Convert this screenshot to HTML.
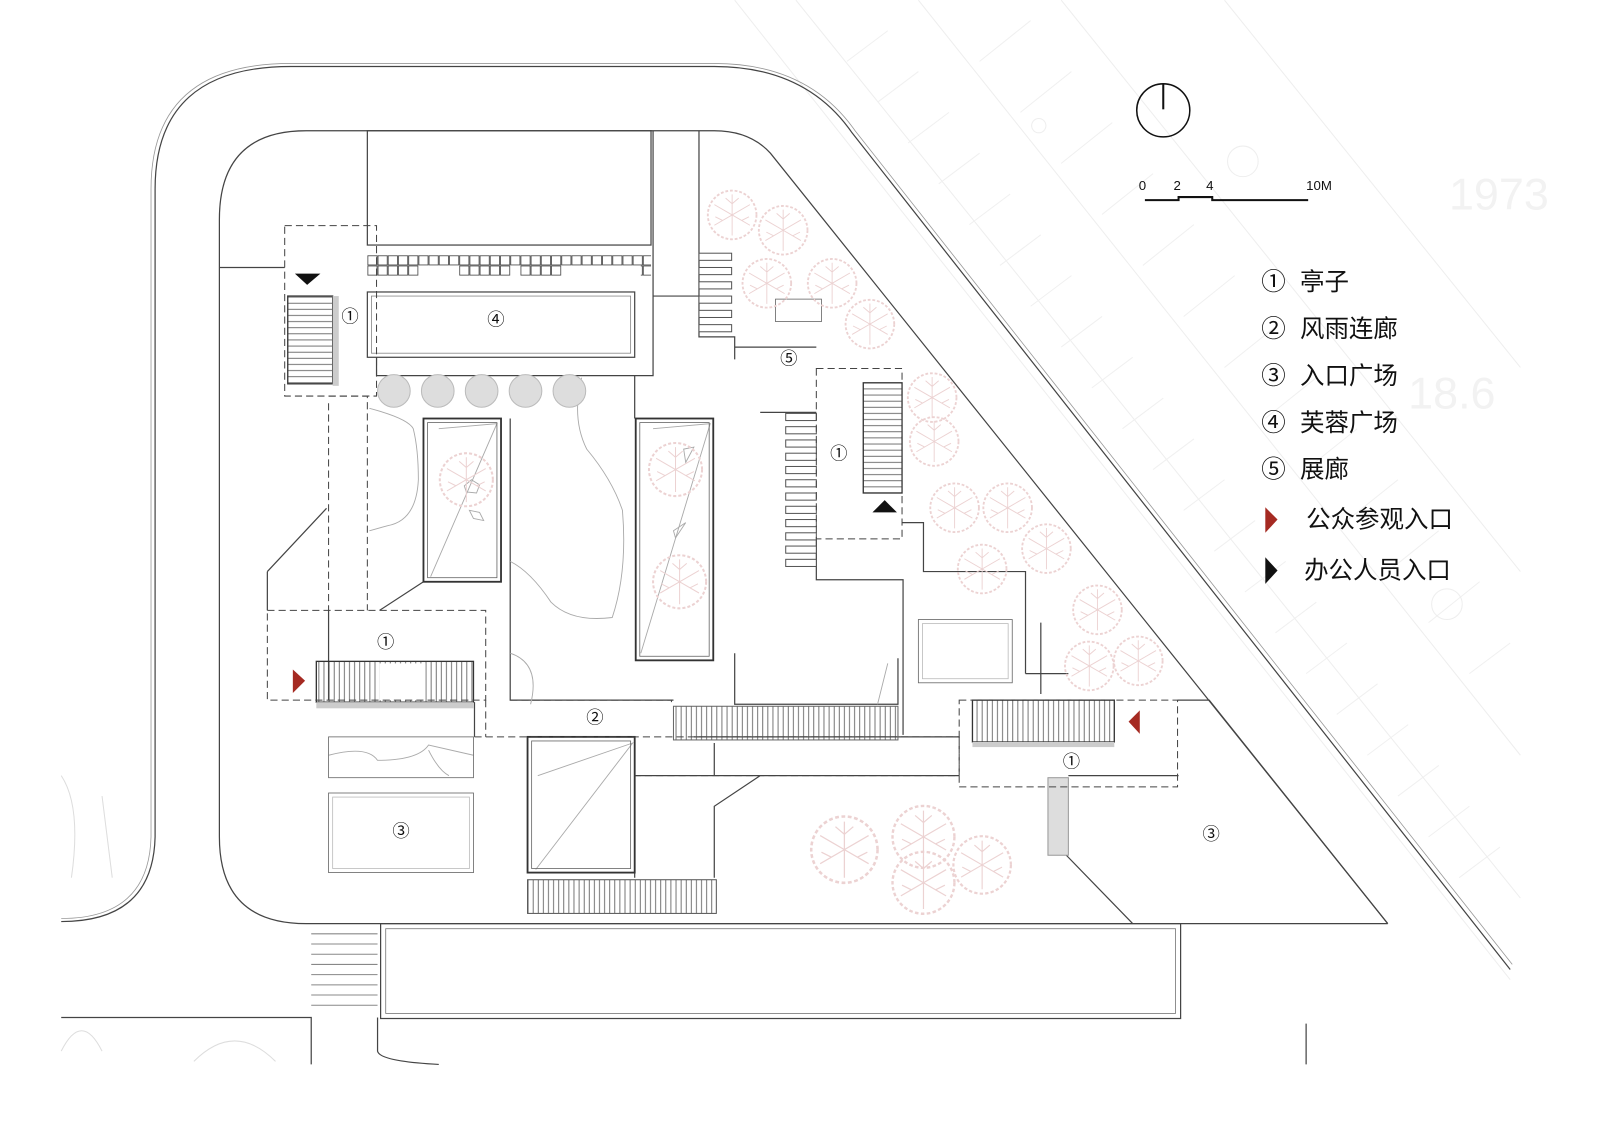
<!DOCTYPE html>
<html><head><meta charset="utf-8"><style>
html,body{margin:0;padding:0;background:#fff;width:1600px;height:1136px;overflow:hidden}
svg{display:block}
.t{font-family:"Liberation Sans","Noto Sans CJK SC",sans-serif;fill:#111}
</style></head><body>
<svg width="1600" height="1136" viewBox="0 0 1568 1113" xmlns="http://www.w3.org/2000/svg">
<defs>
<symbol id="tree" viewBox="-30 -30 60 60">
<circle r="26" fill="none" stroke="#ecd2d2" stroke-width="2" stroke-dasharray="3 2"/>
<g stroke="#ecd2d2" stroke-width="1" fill="none">
<path d="M0 0L0-22M0 0L19-11M0 0L19 11M0 0L0 22M0 0L-19 11M0 0L-19-11M0-12L7-18M0-12L-7-18M10 6L18 2M-10 6L-18 2"/>
</g>
</symbol>
<pattern id="hst" width="6" height="6" patternUnits="userSpaceOnUse"><path d="M0 3H6" stroke="#555" stroke-width="0.8"/></pattern>
<pattern id="vst" width="5" height="6" patternUnits="userSpaceOnUse"><path d="M2.5 0V6" stroke="#555" stroke-width="0.8"/></pattern>
<pattern id="sq" width="10" height="10" patternUnits="userSpaceOnUse"><rect x="0.5" y="0.5" width="9" height="9" fill="none" stroke="#444" stroke-width="0.8"/></pattern>
</defs>
<rect width="1568" height="1113" fill="#fff"/>
<g stroke="#eee" stroke-width="1" fill="none">
<path d="M720 0L1480 960M780 0L1490 880M900 0L1490 740M1040 0L1490 560M1200 0L1490 360"/>
<g stroke="#f0f0f0">
<path d="M830 60L870 30M860 100L900 70M890 140L930 110M920 180L960 150M950 220L990 190M980 260L1020 230M1010 300L1050 270M1040 340L1080 310M1070 380L1110 350M1100 420L1140 390M1130 460L1170 430M1160 500L1200 470M1190 540L1230 510M1220 580L1260 550M1250 620L1290 590M1280 660L1320 630M1310 700L1350 670M1340 740L1380 710M1370 780L1410 750M1400 820L1440 790M1430 860L1470 830"/>
<path d="M960 60L1010 20M1000 110L1050 70M1040 160L1090 120M1080 210L1130 170M1120 260L1170 220M1160 310L1210 270M1200 360L1250 320M1240 410L1290 370M1280 460L1330 420M1320 510L1370 470M1360 560L1410 520M1400 610L1450 570M1440 660L1480 630"/>
</g>
<circle cx="1018" cy="123" r="7"/><circle cx="1218" cy="158" r="15"/><circle cx="1418" cy="592" r="15"/>
</g>
<g class="t" font-size="44"><text x="1420" y="205" style="fill:#f2f2f2">1973</text><text x="1380" y="400" style="fill:#f2f2f2">18.6</text></g>
<g fill="none" stroke="#444" stroke-width="1.2">
<path d="M60 903Q150 903 152 820L152 185Q152 65 285 65L700 65Q790 65 835 130L1480 950"/>
<path d="M60 900Q146 900 148 820L148 185Q148 62 285 62L700 62Q792 62 838 128L1482 945" stroke="#999" stroke-width="0.8"/>
<path d="M215 820Q215 905 300 905L1360 905M215 820L215 215Q215 128 300 128L700 128Q735 128 755 150L1360 905"/>
<path d="M60 997L305 997L305 1043"/>
<path d="M370 997L370 1030Q372 1040 430 1043M1280 1003L1280 1043"/>
<rect x="373" y="905" width="784" height="93"/>
<rect x="378" y="910" width="774" height="83" stroke="#777" stroke-width="0.8"/>
</g>
<g stroke="#888" stroke-width="1"><path d="M305 915H370M305 925H370M305 935H370M305 945H370M305 955H370M305 965H370M305 975H370M305 985H370"/></g>
<g fill="none" stroke="#ddd"><path d="M60 1030Q80 990 100 1030M190 1040Q230 1000 270 1040M100 780L110 860M60 760Q80 790 70 860"/></g>
<g fill="none" stroke="#444" stroke-width="1.2">
<rect x="360" y="128" width="278" height="112"/>
<rect x="360" y="250" width="278" height="10" fill="url(#sq)" stroke="none"/>
<rect x="360" y="260" width="50" height="10" fill="url(#sq)" stroke="none"/>
<rect x="450" y="260" width="50" height="10" fill="url(#sq)" stroke="none"/>
<rect x="510" y="260" width="40" height="10" fill="url(#sq)" stroke="none"/>
<rect x="628" y="260" width="10" height="10" fill="url(#sq)" stroke="none"/>
<rect x="360" y="286" width="262" height="64"/><rect x="364" y="290" width="254" height="56" stroke="#888" stroke-width="0.8"/>
<path d="M215 262H279M369 350V368H622V410M622 368H640V290H685M640 128V290M685 128V330H720V352M720 340H800M745 404H800M884 512H905V560H1005V660M1005 580V610M800 528V568H885V720M262 560V598M262 560L320 498M322 598V686M500 598V686H660M500 410V598M415 570L372 598"/>
<path d="M700 728L700 760L745 760L700 790L700 860M622 760H940M622 760V860M465 688V722M680 722H940"/>
<path d="M1047 760H1155M1045 838L1110 905M1154 686H1185L1360 905M1005 660H1047M1020 610V680"/>
<path d="M720 640V690H880V645"/>
</g>
<g fill="none" stroke="#aaa" stroke-width="0.9">
<path d="M362 400Q400 410 405 420Q410 440 410 470Q408 510 380 515L362 520M570 370Q560 410 575 440Q600 470 610 500Q615 560 600 605Q560 610 540 590Q520 560 500 550M500 640Q530 650 520 690"/>
<path d="M430 420L487 415L422 565M640 420L696 415L628 640M527 760L620 728L525 852M322 740Q360 730 370 745Q410 745 420 730L464 740M420 735Q430 755 440 760M870 650L860 690"/>
<path d="M462 470l8 5-3 8-10-1-2-6zM460 500l10 2 4 8-10-2zM670 440l10-2-8 15zM660 520l12-8-10 15z"/>
</g>
<g fill="#ddd" stroke="#bbb" stroke-width="1">
<circle cx="386" cy="383" r="16"/><circle cx="429" cy="383" r="16"/><circle cx="472" cy="383" r="16"/><circle cx="515" cy="383" r="16"/><circle cx="558" cy="383" r="16"/>
</g>
<g fill="none" stroke="#333" stroke-width="1.8">
<rect x="415" y="410" width="76" height="160"/><rect x="623" y="410" width="76" height="237"/><rect x="517" y="722" width="105" height="133"/>
</g>
<g fill="none" stroke="#666" stroke-width="0.8">
<rect x="419" y="414" width="68" height="152"/><rect x="627" y="414" width="68" height="229"/><rect x="521" y="726" width="97" height="125"/>
<rect x="322" y="722" width="142" height="40"/><rect x="322" y="777" width="142" height="78"/><rect x="326" y="781" width="134" height="70" stroke="#bbb"/>
<rect x="900" y="607" width="92" height="62"/><rect x="904" y="611" width="84" height="54" stroke="#bbb"/>
<rect x="760" y="293" width="45" height="22"/>
</g>
<rect x="1027" y="762" width="20" height="76" fill="#ddd" stroke="#999"/>
<g>
<use href="#tree" x="690" y="183" width="55" height="55"/><use href="#tree" x="740" y="198" width="55" height="55"/><use href="#tree" x="724" y="250" width="55" height="55"/><use href="#tree" x="788" y="250" width="55" height="55"/><use href="#tree" x="825" y="290" width="55" height="55"/>
<use href="#tree" x="886" y="362" width="55" height="55"/><use href="#tree" x="888" y="405" width="55" height="55"/><use href="#tree" x="908" y="470" width="55" height="55"/><use href="#tree" x="960" y="470" width="55" height="55"/><use href="#tree" x="935" y="530" width="55" height="55"/><use href="#tree" x="998" y="510" width="55" height="55"/>
<use href="#tree" x="1048" y="570" width="55" height="55"/><use href="#tree" x="1040" y="625" width="55" height="55"/><use href="#tree" x="1088" y="620" width="55" height="55"/>
<use href="#tree" x="790" y="795" width="75" height="75"/><use href="#tree" x="870" y="785" width="70" height="70"/><use href="#tree" x="930" y="815" width="65" height="65"/><use href="#tree" x="870" y="830" width="70" height="70"/>
<use href="#tree" x="427" y="440" width="60" height="60"/><use href="#tree" x="632" y="430" width="60" height="60"/><use href="#tree" x="636" y="540" width="60" height="60"/>
</g>
<g stroke="#333" stroke-width="1.3">
<rect x="282" y="290" width="44" height="86" fill="url(#hst)"/>
<rect x="846" y="375" width="38" height="108" fill="url(#hst)"/>
<rect x="310" y="648" width="154" height="40" fill="url(#vst)"/>
<rect x="953" y="686" width="139" height="41" fill="url(#vst)"/>
</g>
<rect x="326" y="290" width="6" height="88" fill="#ccc"/>
<rect x="310" y="688" width="154" height="6" fill="#ccc"/>
<rect x="953" y="727" width="139" height="5" fill="#ccc"/>
<rect x="372" y="650" width="45" height="36" fill="#fff"/>
<g fill="#fff" stroke="#555" stroke-width="1">
<rect x="685" y="248" width="32" height="7"/><rect x="685" y="262" width="32" height="7"/><rect x="685" y="276" width="32" height="7"/><rect x="685" y="290" width="32" height="7"/><rect x="685" y="304" width="32" height="7"/><rect x="685" y="318" width="32" height="7"/>
<rect x="770" y="405" width="30" height="7"/><rect x="770" y="418" width="30" height="7"/><rect x="770" y="431" width="30" height="7"/><rect x="770" y="444" width="30" height="7"/><rect x="770" y="457" width="30" height="7"/><rect x="770" y="470" width="30" height="7"/><rect x="770" y="483" width="30" height="7"/><rect x="770" y="496" width="30" height="7"/><rect x="770" y="509" width="30" height="7"/><rect x="770" y="522" width="30" height="7"/><rect x="770" y="535" width="30" height="7"/><rect x="770" y="548" width="30" height="7"/>
</g>
<rect x="517" y="862" width="185" height="33" fill="url(#vst)" stroke="#555"/>
<rect x="660" y="692" width="220" height="33" fill="url(#vst)" stroke="#666"/>
<g fill="none" stroke="#444" stroke-width="1" stroke-dasharray="7 4">
<path d="M279 221H369V388H279Z"/><path d="M322 388H360V598M322 395V598"/>
<path d="M262 598H476V686H262Z"/>
<path d="M500 686H658V688M465 722H940V760H622M476 686V722"/>
<path d="M800 361H884V528H800Z"/>
<path d="M940 686H1154V771H940Z"/>
</g>
<path d="M289 268H314L301 279Z" fill="#111"/>
<path d="M855 502H879L867 490Z" fill="#111"/>
<path d="M287 656L299 667L287 679Z" fill="#a52a22"/>
<path d="M1117 696L1106 707L1117 719Z" fill="#a52a22"/>
<g class="t" font-size="17" text-anchor="middle">
<text x="343" y="316">①</text><text x="486" y="319">④</text><text x="773" y="357">⑤</text><text x="822" y="450">①</text><text x="378" y="635">①</text><text x="583" y="709">②</text><text x="1050" y="752">①</text><text x="393" y="820">③</text><text x="1187" y="823">③</text>
</g>
<circle cx="1140" cy="108" r="26" fill="none" stroke="#111" stroke-width="1.5"/>
<path d="M1140 82V107" stroke="#111" stroke-width="2"/>
<g class="t" font-size="13"><text x="1116" y="186">0</text><text x="1150" y="186">2</text><text x="1182" y="186">4</text><text x="1280" y="186">10M</text></g>
<path d="M1122 196H1155V193H1188V196H1282" fill="none" stroke="#111" stroke-width="2"/>
<g class="t" font-size="24">
<text x="1236" y="284">①</text><text x="1274" y="284">亭子</text>
<text x="1236" y="330">②</text><text x="1274" y="330">风雨连廊</text>
<text x="1236" y="376">③</text><text x="1274" y="376">入口广场</text>
<text x="1236" y="422">④</text><text x="1274" y="422">芙蓉广场</text>
<text x="1236" y="468">⑤</text><text x="1274" y="468">展廊</text>
<text x="1280" y="517">公众参观入口</text>
<text x="1278" y="567">办公人员入口</text>
</g>
<path d="M1240 497L1252 509L1240 522Z" fill="#a52a22"/>
<path d="M1240 546L1252 559L1240 572Z" fill="#111"/>
</svg>
</body></html>
